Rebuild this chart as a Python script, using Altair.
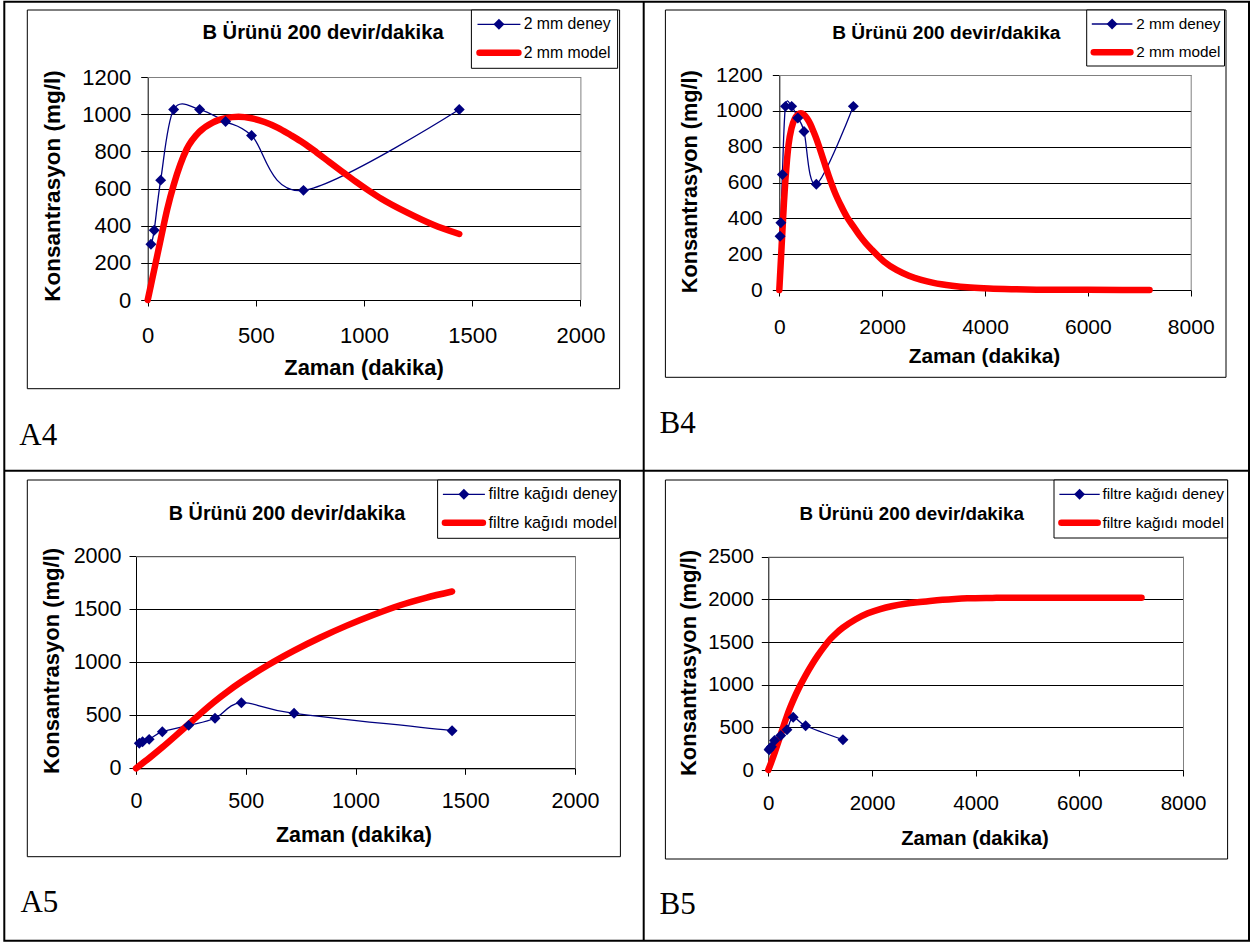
import altair as alt
import pandas as pd

# ------------------------------------------------------------------ data
deney_t = [15, 30, 60, 120, 240, 360, 480, 720, 1440]
deney_2mm = [300, 375, 645, 1025, 1025, 960, 885, 590, 1025]
deney_filtre = [236, 251, 273, 345, 405, 472, 619, 519, 355]

model_2mm_t = [0, 15, 30, 60, 90, 120, 150, 180, 240, 300, 360, 420, 480, 540,
               600, 660, 720, 780, 840, 900, 960, 1020, 1080, 1200, 1320, 1440]
model_2mm_v = [0, 81, 162, 326, 487, 619, 727, 811, 906, 955, 978, 986, 978, 958,
               928, 888, 845, 795, 742, 690, 638, 590, 545, 470, 405, 355]
model_2mm_tail_t = [1560, 1680, 1800, 2040, 2280, 2520, 2760, 3000, 3360, 3720,
                    4080, 4560, 5000, 6000, 7200]
model_2mm_tail_v = [305, 262, 225, 158, 112, 80, 57, 40, 24, 14, 8, 4, 2, 1, 0]

model_filtre_t = [0, 60, 120, 180, 240, 300, 360, 420, 480, 600, 720, 840, 960,
                  1080, 1200, 1320, 1440]
model_filtre_v = [0, 96, 198, 306, 417, 528, 633, 729, 816, 972, 1110, 1234, 1346,
                  1446, 1536, 1608, 1668]
model_filtre_tail_t = [1680, 1920, 2160, 2400, 2640, 2880, 3120, 3360, 3600, 3840,
                       4320, 4800, 5760, 6720, 7200]
model_filtre_tail_v = [1764, 1836, 1886, 1922, 1948, 1967, 1982, 1995, 2005, 2012,
                       2017, 2020, 2020, 2020, 2020]

x_ticks_A = [0, 500, 1000, 1500, 2000]
x_ticks_B = [0, 2000, 4000, 6000, 8000]
y_ticks_4 = [0, 200, 400, 600, 800, 1000, 1200]
y_ticks_A5 = [0, 500, 1000, 1500, 2000]
y_ticks_B5 = [0, 500, 1000, 1500, 2000, 2500]

title_text = "B Ürünü 200 devir/dakika"
x_title = "Zaman (dakika)"
y_title = "Konsantrasyon (mg/l)"
legend_2mm = ["2 mm deney", "2 mm model"]
legend_filtre = ["filtre kağıdı deney", "filtre kağıdı model"]
cell_labels = ["A4", "B4", "A5", "B5"]

W, H = 1253, 942
SANS = "Liberation Sans"
SERIF = "Liberation Serif"
NAVY = "#000080"
RED = "#FF0000"
MSIZE = 120


def one(v):
    return pd.DataFrame({"s": [v]})


def vtext(s, x, y, size, bold=False, font=SANS, angle=0, align="center",
          baseline="middle"):
    return alt.Chart(one(s)).mark_text(
        font=font, fontSize=size, fontWeight="bold" if bold else "normal",
        angle=angle, align=align, baseline=baseline, color="black"
    ).encode(text="s:N", x=alt.value(x), y=alt.value(y))


def vrect(x0, y0, x1, y1, stroke="black", sw=1, fill="transparent"):
    return alt.Chart(one(0)).mark_rect(
        fill=fill, stroke=stroke, strokeWidth=sw
    ).encode(x=alt.value(x0), x2=alt.value(x1), y=alt.value(y0), y2=alt.value(y1))


def hrule(x0, x1, y, color="black", sw=1, cap="butt"):
    return alt.Chart(one(0)).mark_rule(color=color, strokeWidth=sw, strokeCap=cap).encode(
        x=alt.value(x0), x2=alt.value(x1), y=alt.value(y))


def vrule(x, y0, y1, color="black", sw=1):
    return alt.Chart(one(0)).mark_rule(color=color, strokeWidth=sw).encode(
        x=alt.value(x), y=alt.value(y0), y2=alt.value(y1))


def plot_layers(p):
    dm = pd.DataFrame({"t": p["mt"], "v": p["mv"]})
    dd = pd.DataFrame({"t": deney_t, "v": p["dv"]})
    ax_x = alt.Axis(orient="bottom", values=p["xticks"], format="d", title=None,
                    offset=p["y0"] - H, grid=False, labelFlush=False,
                    labelOverlap=False, labelFont=SANS, labelFontSize=p["tfs"],
                    labelColor="black", labelPadding=p["xlp"], tickSize=6,
                    tickColor="black", tickWidth=1, domainColor="black",
                    domainWidth=1)
    ax_y = alt.Axis(orient="left", values=p["yticks"], format="d", title=None,
                    offset=-p["x0"], grid=True, gridColor="black", gridWidth=1,
                    labelOverlap=False, labelFont=SANS, labelFontSize=p["tfs"],
                    labelColor="black", labelPadding=p["ylp"], tickSize=7,
                    tickColor="black", tickWidth=1, domainColor="black",
                    domainWidth=1)
    xs = alt.Scale(domain=[0, p["xmax"]], range=[p["x0"], p["x1"]], nice=False,
                   zero=False)
    ys = alt.Scale(domain=[0, p["ymax"]], range=[p["y0"], p["y1"]], nice=False,
                   zero=False)
    X = alt.X("t:Q", scale=xs, axis=ax_x)
    Y = alt.Y("v:Q", scale=ys, axis=ax_y)
    dl = alt.Chart(dd).mark_line(color=NAVY, strokeWidth=1.3,
                                 interpolate="cardinal").encode(x=X, y=Y)
    ml = alt.Chart(dm).mark_line(color=RED, strokeWidth=6.5, interpolate="monotone",
                                 strokeCap="round", strokeJoin="round").encode(x=X, y=Y)
    dp = alt.Chart(dd).mark_point(shape="diamond", filled=True, size=MSIZE,
                                  color=NAVY, opacity=1).encode(x=X, y=Y)
    return alt.layer(dl, ml, dp)


def decorations(p):
    b = p["box"]
    out = [vrect(b[0], b[1], b[2], b[3])]
    # plot area border (top and right, grey)
    out.append(hrule(p["x0"], p["x1"] + 0.5, p["y1"] + 0.5, color="#808080"))
    out.append(vrule(p["x1"] + 0.5, p["y1"], p["y0"], color="#808080"))
    return out


def overlays(p):
    lg = p["leg"]
    out = []
    out.append(vrect(lg["box"][0], lg["box"][1], lg["box"][2], lg["box"][3],
                     fill="white"))
    sx0, sx1 = lg["sample"]
    r1, r2 = lg["rows"]
    out.append(hrule(sx0, sx1, r1, color=NAVY, sw=1.3))
    out.append(alt.Chart(one(0)).mark_point(shape="diamond", filled=True, size=MSIZE,
                                            color=NAVY, opacity=1).encode(
        x=alt.value((sx0 + sx1) / 2), y=alt.value(r1)))
    out.append(hrule(sx0 + 2, sx1 - 2, r2, color=RED, sw=6.5, cap="round"))
    out.append(vtext(p["legtext"][0], lg["tx"], r1, lg["fs"], align="left"))
    out.append(vtext(p["legtext"][1], lg["tx"], r2, lg["fs"], align="left"))
    tx, ty, tfs = p["title"]
    out.append(vtext(title_text, tx, ty, tfs, bold=True))
    xx, xy, xfs = p["xtitle"]
    out.append(vtext(x_title, xx, xy, xfs, bold=True))
    yx, yy, yfs = p["ytitle"]
    out.append(vtext(y_title, yx, yy, yfs, bold=True, angle=270))
    lx, ly = p["label"]
    out.append(vtext(p["name"], lx, ly, 31, font=SERIF, align="left",
                     baseline="alphabetic"))
    return out


panels = [
    dict(name=cell_labels[0], mt=model_2mm_t, mv=model_2mm_v, dv=deney_2mm,
         xticks=x_ticks_A, yticks=y_ticks_4, xmax=2000, ymax=1200,
         x0=147.7, x1=580.4, y0=300, y1=77, tfs=22, xlp=19.5, ylp=10,
         box=(27.3, 10, 619.6, 388.7),
         leg=dict(box=(471.4, 10, 617.6, 68.3), sample=(477.5, 520.4), tx=523.7,
                  rows=(24.3, 52.7), fs=15.8),
         legtext=legend_2mm, title=(323, 33, 20.2), xtitle=(364, 368.3, 21.9),
         ytitle=(53, 186, 22.5), label=(19.3, 445)),
    dict(name=cell_labels[1], mt=model_2mm_t + model_2mm_tail_t,
         mv=model_2mm_v + model_2mm_tail_v, dv=deney_2mm,
         xticks=x_ticks_B, yticks=y_ticks_4, xmax=8000, ymax=1200,
         x0=779.3, x1=1190.7, y0=290, y1=75, tfs=21, xlp=20, ylp=10,
         box=(665.4, 10, 1226, 377.3),
         leg=dict(box=(1086.7, 10, 1224.5, 66), sample=(1091.8, 1132.4), tx=1136.3,
                  rows=(24, 52.3), fs=15.3),
         legtext=legend_2mm, title=(946.3, 33.3, 19.1), xtitle=(984.5, 357.3, 20.8),
         ytitle=(690, 181.7, 21.7), label=(659.5, 432.7)),
    dict(name=cell_labels[2], mt=model_filtre_t, mv=model_filtre_v, dv=deney_filtre,
         xticks=x_ticks_A, yticks=y_ticks_A5, xmax=2000, ymax=2000,
         x0=136, x1=575, y0=768.3, y1=556.3, tfs=21.5, xlp=16, ylp=8,
         box=(27.3, 480, 620.4, 856.7),
         leg=dict(box=(437.6, 480, 619.6, 538.3), sample=(442.9, 484.9), tx=488.6,
                  rows=(494.3, 522.7), fs=16.3),
         legtext=legend_filtre, title=(287, 514.3, 19.8), xtitle=(353.9, 836, 21.4),
         ytitle=(51.6, 661, 22), label=(20.4, 912.3)),
    dict(name=cell_labels[3], mt=model_filtre_t + model_filtre_tail_t,
         mv=model_filtre_v + model_filtre_tail_v, dv=deney_filtre,
         xticks=x_ticks_B, yticks=y_ticks_B5, xmax=8000, ymax=2500,
         x0=768.3, x1=1183, y0=770, y1=556.7, tfs=20.5, xlp=17, ylp=8,
         box=(665.4, 480, 1227.6, 859),
         leg=dict(box=(1054, 480, 1227.6, 538), sample=(1059.4, 1099.7), tx=1102.4,
                  rows=(494.3, 522.7), fs=15.4),
         legtext=legend_filtre, title=(911.7, 514.3, 18.8), xtitle=(975, 839, 20.3),
         ytitle=(689, 663, 22), label=(659.6, 914.3)),
]

layers = []
# table frame
layers.append(vrect(4.3, 1.7, 1249, 940.7, sw=2))
layers.append(vrule(643.7, 1.7, 940.7, sw=2))
layers.append(hrule(4.3, 1249, 470.7, sw=2))
for p in panels:
    layers.extend(decorations(p))
for p in panels:
    layers.append(plot_layers(p))
for p in panels:
    layers.extend(overlays(p))

chart = alt.layer(*layers).resolve_scale(
    x="independent", y="independent"
).resolve_axis(
    x="independent", y="independent"
).properties(
    width=W, height=H, padding=0, background="white",
    autosize=alt.AutoSizeParams(type="none")
).configure_view(stroke="transparent")

chart.save("out.html", embed_options={"renderer": "svg", "actions": False})
